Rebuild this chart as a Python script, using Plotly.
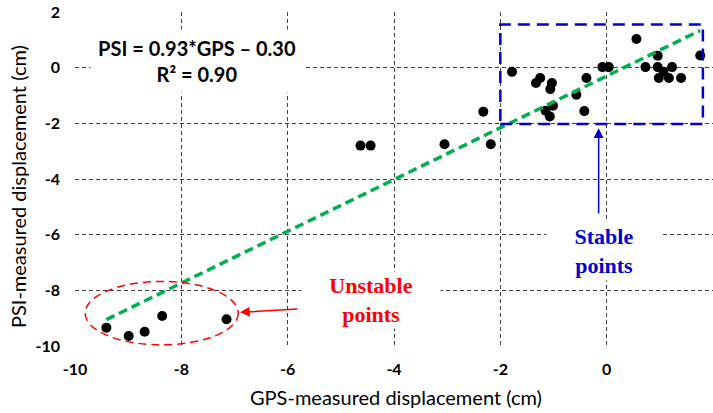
import plotly.graph_objects as go

# GPS vs PSI displacement (cm)
gps = [-1.78, -1.25, -1.33, -1.03, -1.06, -0.38, -0.57, -1.01, -1.15, -1.07, -0.42,
       -0.08, 0.04, 0.56, 0.73, 0.96, 0.96, 1.07, 1.23, 0.98, 1.17, 1.40, 1.76,
       -2.32, -3.05, -2.18, -4.63, -4.44,
       -9.41, -8.99, -8.69, -8.36, -7.15]
psi = [-0.15, -0.37, -0.55, -0.55, -0.77, -0.37, -0.97, -1.37, -1.55, -1.75, -1.56,
       0.02, 0.02, 1.03, 0.02, 0.43, 0.02, -0.15, 0.02, -0.37, -0.37, -0.37, 0.44,
       -1.58, -2.75, -2.75, -2.80, -2.80,
       -9.34, -9.64, -9.49, -8.92, -9.04]

slope = 0.93
intercept = -0.30
r2 = 0.90

x_ticks = [-10, -8, -6, -4, -2, 0, 2]
y_ticks = [-10, -8, -6, -4, -2, 0, 2]
x_tick_text = ["-10", "-8", "-6", "-4", "-2", "0", "2"]
y_tick_text = ["-10", "-8", "-6", "-4", "-2", "0", "2"]

fit_x = [min(gps), max(gps)]
fit_y = [slope * v + intercept for v in fit_x]

SANS = "Lato"
SERIF = "Liberation Serif"

fig = go.Figure()
fig.add_trace(go.Scatter(x=gps, y=psi, mode="markers",
                         marker=dict(color="black", size=10), showlegend=False))
fig.add_trace(go.Scatter(x=fit_x, y=fit_y, mode="lines",
                         line=dict(color="#00B050", width=3.5, dash="9px,5px"),
                         showlegend=False))

grid = dict(showgrid=True, gridcolor="#404040", gridwidth=1, griddash="4px,3px",
            zeroline=False, showline=False, ticks="",
            tickfont=dict(family=SANS, size=16, color="black", weight="bold"))

fig.update_xaxes(range=[-10, 2], tickvals=x_ticks, ticktext=x_tick_text,
                 ticklabelstandoff=12, **grid)
fig.update_yaxes(range=[-10, 2], tickvals=y_ticks, ticktext=y_tick_text,
                 ticklabelstandoff=14, **grid)

# stable zone rectangle and unstable zone ellipse
fig.add_shape(type="rect", x0=-2.0, x1=1.81, y0=-2.02, y1=1.55,
              line=dict(color="#0000CC", width=2.5, dash="12px,7px"))
fig.add_shape(type="circle", x0=-9.81, x1=-6.93, y0=-9.96, y1=-7.68,
              line=dict(color="red", width=1.5, dash="8px,5px"))

eq_text = f"PSI = {slope:.2f}*GPS – {abs(intercept):.2f}<br>R² = {r2:.2f}"

ann = [
    dict(x=-7.706, y=0.23, xref="x", yref="y",
         text=eq_text, showarrow=False,
         font=dict(family=SANS, size=20, color="black", weight="bold"),
         bgcolor="white", width=210, height=60),
    dict(x=-0.041, y=-6.588, xref="x", yref="y", text="Stable<br>points",
         showarrow=False, font=dict(family=SERIF, size=22, color="#0000CC", weight="bold"),
         bgcolor="white", width=112, height=56),
    dict(x=-4.433, y=-8.349, xref="x", yref="y", text="Unstable<br>points",
         showarrow=False, font=dict(family=SERIF, size=22, color="red", weight="bold"),
         bgcolor="white", width=136, height=54),
    dict(x=-0.151, y=-2.18, xref="x", yref="y", ax=-0.151, ay=-5.29,
         axref="x", ayref="y", text="", showarrow=True, arrowhead=2,
         arrowsize=1.3, arrowwidth=1.5, arrowcolor="#0000CC"),
    dict(x=-6.897, y=-8.79, xref="x", yref="y", ax=-5.787, ay=-8.67,
         axref="x", ayref="y", text="", showarrow=True, arrowhead=2,
         arrowsize=1.3, arrowwidth=1.5, arrowcolor="red"),
    dict(x=0.503, y=-0.1527, xref="paper", yref="paper",
         xanchor="center", yanchor="middle",
         text="GPS-measured displacement (cm)", showarrow=False,
         font=dict(family=SANS, size=20, color="black")),
    dict(x=-0.0893, y=0.476, xref="paper", yref="paper", textangle=-90,
         xanchor="center", yanchor="middle",
         text="PSI-measured displacement (cm)", showarrow=False,
         font=dict(family=SANS, size=20, color="black")),
]
fig.update_layout(annotations=ann)

fig.update_layout(width=713, height=413, margin=dict(l=75, r=0, t=12, b=67),
                  paper_bgcolor="white", plot_bgcolor="white")

fig.write_html("out.html")
